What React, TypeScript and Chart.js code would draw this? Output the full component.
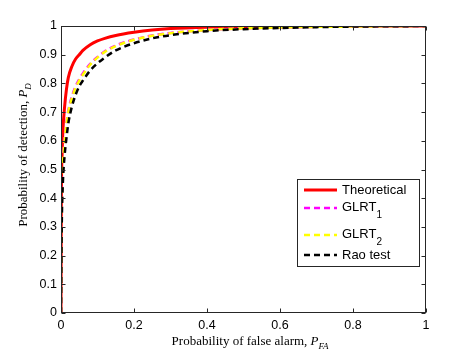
import React, { useEffect, useRef } from "react";
import { Chart, registerables } from "chart.js";

Chart.register(...registerables);

// ---- data ----
const theoPfa = [0, 0.001, 0.003, 0.005, 0.01, 0.015, 0.02, 0.03, 0.04, 0.05, 0.06, 0.08, 0.1, 0.12, 0.15, 0.2, 0.25, 0.3, 0.4, 0.5, 0.6, 0.8, 1];
const theoPd = [0, 0.4, 0.55, 0.63, 0.72, 0.78, 0.82, 0.86, 0.885, 0.9, 0.915, 0.935, 0.948, 0.957, 0.967, 0.978, 0.986, 0.991, 0.996, 0.998, 0.999, 1, 1];

const testPfa = [0, 0.002, 0.005, 0.01, 0.015, 0.02, 0.03, 0.04, 0.05, 0.06, 0.08, 0.1, 0.12, 0.15, 0.2, 0.25, 0.3, 0.4, 0.5, 0.6, 0.7, 0.8, 0.9, 1];
const glrt1Pd = [0, 0.36, 0.51, 0.61, 0.665, 0.705, 0.755, 0.79, 0.815, 0.835, 0.868, 0.892, 0.912, 0.932, 0.953, 0.967, 0.976, 0.986, 0.992, 0.995, 0.997, 0.998, 0.999, 1];
const glrt2Pd = [0, 0.35, 0.5, 0.6, 0.66, 0.7, 0.75, 0.785, 0.81, 0.83, 0.865, 0.89, 0.91, 0.93, 0.952, 0.966, 0.975, 0.986, 0.992, 0.995, 0.997, 0.998, 0.999, 1];
const raoPd = [0, 0.3, 0.45, 0.55, 0.61, 0.66, 0.72, 0.76, 0.79, 0.81, 0.845, 0.87, 0.89, 0.915, 0.94, 0.957, 0.968, 0.982, 0.989, 0.993, 0.996, 0.998, 0.999, 1];

const xTickValues = [0, 0.2, 0.4, 0.6, 0.8, 1];
const xTickLabels = ["0", "0.2", "0.4", "0.6", "0.8", "1"];
const yTickValues = [0, 0.1, 0.2, 0.3, 0.4, 0.5, 0.6, 0.7, 0.8, 0.9, 1];
const yTickLabels = ["0", "0.1", "0.2", "0.3", "0.4", "0.5", "0.6", "0.7", "0.8", "0.9", "1"];

const legendEntries = [
  { main: "Theoretical", sub: "", color: "#ff0000", dash: [] as number[] },
  { main: "GLRT", sub: "1", color: "#ff00ff", dash: [6, 4] },
  { main: "GLRT", sub: "2", color: "#ffff00", dash: [6, 4] },
  { main: "Rao test", sub: "", color: "#000000", dash: [6, 4] },
];

const SANS = "'Liberation Sans', Arial, Helvetica, sans-serif";
const SERIF = "'Liberation Serif', 'Times New Roman', serif";

function toXY(xs: number[], ys: number[]) {
  return xs.map((x, i) => ({ x, y: ys[i] }));
}

function drawSubText(ctx: CanvasRenderingContext2D, x: number, y: number, main: string, italic: string, sub: string, size: number, family: string) {
  ctx.font = `${size}px ${family}`;
  ctx.fillText(main, x, y);
  let cx = x + ctx.measureText(main).width;
  if (italic) {
    ctx.font = `italic ${size}px ${family}`;
    ctx.fillText(italic, cx, y);
    cx += ctx.measureText(italic).width;
  }
  if (sub) {
    const ss = Math.round(size * 0.7);
    ctx.font = `italic ${ss}px ${family}`;
    ctx.fillText(sub, cx, y + size * 0.3);
    cx += ctx.measureText(sub).width;
  }
  return cx - x;
}

function measureSubText(ctx: CanvasRenderingContext2D, main: string, italic: string, sub: string, size: number, family: string) {
  ctx.font = `${size}px ${family}`;
  let w = ctx.measureText(main).width;
  ctx.font = `italic ${size}px ${family}`;
  w += ctx.measureText(italic).width;
  ctx.font = `italic ${Math.round(size * 0.7)}px ${family}`;
  w += ctx.measureText(sub).width;
  return w;
}

const decorPlugin = {
  id: "decor",
  afterDraw(chart: any) {
    const ctx: CanvasRenderingContext2D = chart.ctx;
    const { left, right, top, bottom } = chart.chartArea;
    const xs = chart.scales.x;
    const ys = chart.scales.y;
    ctx.save();
    // axes box
    ctx.strokeStyle = "#262626";
    ctx.lineWidth = 1;
    ctx.setLineDash([]);
    const L = Math.round(left) + 0.5, R = Math.round(right) - 0.5, T = Math.round(top) + 0.5, B = Math.round(bottom) - 0.5;
    ctx.strokeRect(L, T, R - L, B - T);
    const tl = 4;
    ctx.beginPath();
    xTickValues.forEach((v) => {
      const px = Math.round(xs.getPixelForValue(v)) + 0.5;
      ctx.moveTo(px, B); ctx.lineTo(px, B - tl);
      ctx.moveTo(px, T); ctx.lineTo(px, T + tl);
    });
    yTickValues.forEach((v) => {
      const py = Math.round(ys.getPixelForValue(v)) + 0.5;
      ctx.moveTo(L, py); ctx.lineTo(L + tl, py);
      ctx.moveTo(R, py); ctx.lineTo(R - tl, py);
    });
    ctx.stroke();

    // axis titles
    ctx.fillStyle = "#000";
    ctx.textBaseline = "alphabetic";
    ctx.textAlign = "left";
    const tsize = 13;
    const xw = measureSubText(ctx, "Probability of false alarm, ", "P", "FA", tsize, SERIF);
    drawSubText(ctx, 250 - xw / 2, 345, "Probability of false alarm, ", "P", "FA", tsize, SERIF);
    const yw = measureSubText(ctx, "Probability of detection, ", "P", "D", tsize, SERIF);
    ctx.save();
    ctx.translate(27, 155);
    ctx.rotate(-Math.PI / 2);
    drawSubText(ctx, -yw / 2, 0, "Probability of detection, ", "P", "D", tsize, SERIF);
    ctx.restore();

    // legend
    const bx = 297.5, by = 179.5, bw = 122, bh = 87;
    ctx.fillStyle = "#fff";
    ctx.fillRect(bx, by, bw, bh);
    ctx.strokeStyle = "#262626";
    ctx.lineWidth = 1;
    ctx.strokeRect(bx, by, bw, bh);
    const rows = [190, 208, 235, 255];
    legendEntries.forEach((e, i) => {
      const y = rows[i];
      ctx.strokeStyle = e.color;
      ctx.lineWidth = e.dash.length ? 2.5 : 3;
      ctx.setLineDash(e.dash);
      ctx.beginPath();
      ctx.moveTo(304, y);
      ctx.lineTo(337, y);
      ctx.stroke();
      ctx.setLineDash([]);
      ctx.fillStyle = "#000";
      ctx.textBaseline = "middle";
      ctx.font = `13px ${SANS}`;
      ctx.fillText(e.main, 342, y - (e.sub ? 1 : 0));
      if (e.sub) {
        const w = ctx.measureText(e.main).width;
        ctx.font = `10px ${SANS}`;
        ctx.fillText(e.sub, 342 + w, y + 7);
      }
    });
    ctx.restore();
  },
};

export default function App() {
  const ref = useRef<HTMLCanvasElement | null>(null);
  useEffect(() => {
    document.body.style.margin = "0";
    const canvas = ref.current!;
    const chart = new Chart(canvas, {
      type: "scatter",
      data: {
        datasets: [
          { label: "Theoretical", data: toXY(theoPfa, theoPd), borderColor: "#ff0000", borderWidth: 3, showLine: true, pointRadius: 0, order: 3, cubicInterpolationMode: "monotone" } as any,
          { label: "GLRT1", data: toXY(testPfa, glrt1Pd), borderColor: "#ff00ff", borderWidth: 2.5, borderDash: [6, 4], showLine: true, pointRadius: 0, order: 2, cubicInterpolationMode: "monotone" } as any,
          { label: "GLRT2", data: toXY(testPfa, glrt2Pd), borderColor: "#ffff00", borderWidth: 2.5, borderDash: [6, 4], showLine: true, pointRadius: 0, order: 1, cubicInterpolationMode: "monotone" } as any,
          { label: "Rao test", data: toXY(testPfa, raoPd), borderColor: "#000000", borderWidth: 2.5, borderDash: [6, 4], showLine: true, pointRadius: 0, order: 0, cubicInterpolationMode: "monotone" } as any,
        ],
      },
      options: {
        animation: false,
        responsive: false,
        maintainAspectRatio: false,
        devicePixelRatio: 1,
        layout: { padding: { left: 0, top: 26, right: 43, bottom: 0 } },
        plugins: { legend: { display: false }, tooltip: { enabled: false }, title: { display: false } },
        scales: {
          x: {
            type: "linear",
            min: 0,
            max: 1,
            grid: { display: false, drawTicks: false },
            border: { display: false },
            afterBuildTicks: (s: any) => { s.ticks = xTickValues.map((v) => ({ value: v })); },
            afterFit: (s: any) => { s.height = 39; },
            ticks: {
              padding: 5,
              color: "#000",
              font: { family: SANS, size: 12.5 },
              callback: (_v: any, i: number) => xTickLabels[i],
              maxRotation: 0,
            },
          },
          y: {
            type: "linear",
            min: 0,
            max: 1,
            grid: { display: false, drawTicks: false },
            border: { display: false },
            afterBuildTicks: (s: any) => { s.ticks = yTickValues.map((v) => ({ value: v })); },
            afterFit: (s: any) => { s.width = 61; },
            ticks: {
              padding: 4,
              color: "#000",
              font: { family: SANS, size: 12.5 },
              callback: (_v: any, i: number) => yTickLabels[i],
            },
          },
        },
      } as any,
      plugins: [decorPlugin],
    });
    return () => chart.destroy();
  }, []);
  return (
    <div style={{ width: 469, height: 352, background: "#fff" }}>
      <canvas ref={ref} width={469} height={352} style={{ display: "block", width: 469, height: 352 }} />
    </div>
  );
}
